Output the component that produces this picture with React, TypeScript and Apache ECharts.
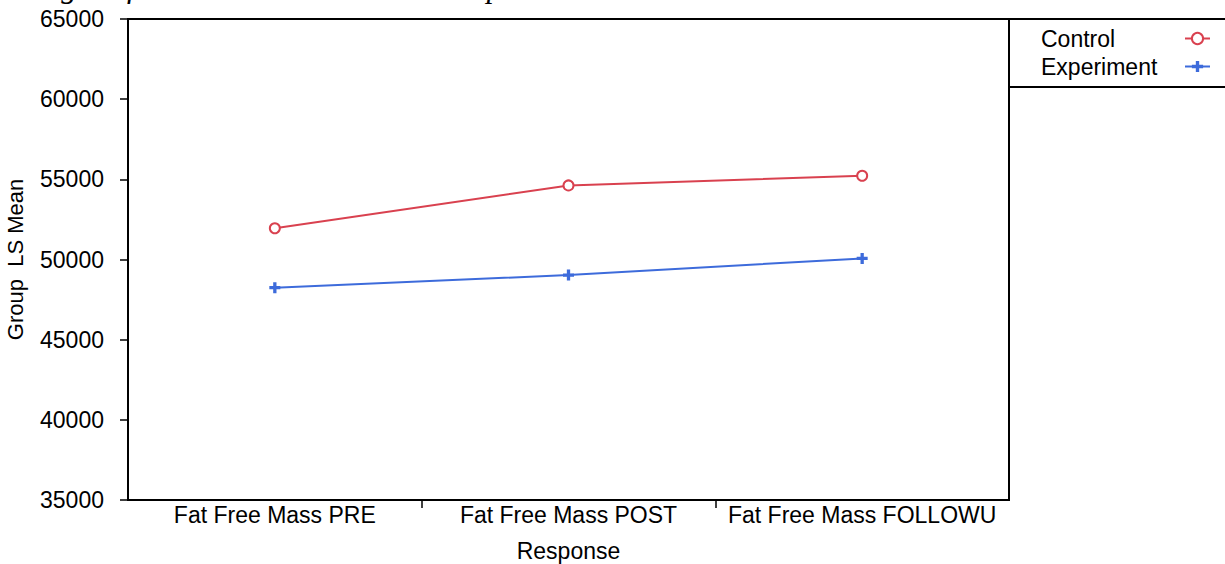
import React, { useEffect, useRef } from "react";
import * as echarts from "echarts";

const categories = ["Fat Free Mass PRE", "Fat Free Mass POST", "Fat Free Mass FOLLOWU"];
const controlValues = [51950, 54620, 55220];
const experimentValues = [48240, 49030, 50070];
const yMin = 35000;
const yMax = 65000;
const yInterval = 5000;
const titleText = "Changes of Fat Free Mass across time points";

const RED = "#d9414f";
const BLUE = "#3d6bdb";
const FONT = '"Liberation Sans", Arial, sans-serif';
const PLUS = "path://M3.5,0 H6.5 V3.5 H10 V6.5 H6.5 V10 H3.5 V6.5 H0 V3.5 H3.5 Z";

export default function App() {
  const ref = useRef<HTMLDivElement>(null);
  useEffect(() => {
    if (!ref.current) return;
    const chart = echarts.init(ref.current, undefined, { renderer: "svg" });
    chart.setOption({
      animation: false,
      backgroundColor: "#ffffff",
      textStyle: { fontFamily: FONT },
      grid: {
        left: 128,
        top: 19,
        right: 216,
        bottom: 64,
        outerBoundsMode: "none",
        containLabel: false,
        show: true,
        borderColor: "#000",
        borderWidth: 2,
        backgroundColor: "transparent",
      },
      legend: {
        orient: "vertical",
        left: 1036,
        top: 22,
        align: "right",
        itemGap: 5,
        itemWidth: 25,
        itemHeight: 14,
        formatter: (name: string) => `{t|${name}}`,
        textStyle: {
          fontFamily: FONT,
          fontSize: 23,
          color: "#000",
          align: "left",
          rich: {
            t: { width: 139, align: "left", fontFamily: FONT, fontSize: 23, color: "#000", lineHeight: 26 },
          },
        },
        data: ["Control", "Experiment"],
      },
      xAxis: [
        {
          type: "category",
          data: categories,
          boundaryGap: true,
          name: "Response",
          nameLocation: "middle",
          nameGap: 39,
          nameTextStyle: { fontFamily: FONT, fontSize: 23, color: "#000" },
          axisLine: { show: true, lineStyle: { color: "#000", width: 2 } },
          axisTick: { show: false },
          axisLabel: { fontFamily: FONT, fontSize: 23, color: "#000", margin: 3, interval: 0 },
          splitLine: { show: false },
        },
        {
          type: "value",
          position: "bottom",
          min: 0,
          max: 3,
          interval: 1,
          axisLine: { show: false },
          axisLabel: { show: false },
          axisTick: {
            show: true,
            customValues: [1, 2],
            length: 8,
            lineStyle: { color: "#000", width: 1.5 },
          },
          splitLine: { show: false },
        },
      ],
      yAxis: {
        type: "value",
        min: yMin,
        max: yMax,
        interval: yInterval,
        name: "Group  LS Mean",
        nameLocation: "middle",
        nameGap: 102,
        nameTextStyle: { fontFamily: FONT, fontSize: 22, color: "#000" },
        axisLine: { show: true, lineStyle: { color: "#000", width: 2 } },
        axisTick: { show: true, length: 8, lineStyle: { color: "#000", width: 1.5 } },
        axisLabel: {
          fontFamily: FONT,
          fontSize: 23,
          color: "#000",
          margin: 24,
          formatter: (v: number) => String(v),
        },
        splitLine: { show: false },
      },
      series: [
        {
          name: "Control",
          type: "line",
          xAxisIndex: 0,
          data: controlValues,
          symbol: "emptyCircle",
          symbolSize: 10,
          color: RED,
          lineStyle: { color: RED, width: 2 },
          itemStyle: { color: RED, borderColor: RED, borderWidth: 1.5 },
        },
        {
          name: "Experiment",
          type: "line",
          xAxisIndex: 0,
          data: experimentValues,
          symbol: PLUS,
          symbolSize: 11,
          color: BLUE,
          lineStyle: { color: BLUE, width: 2 },
          itemStyle: { color: BLUE, borderWidth: 0 },
        },
      ],
      graphic: [
        {
          type: "line",
          shape: { x1: 1009, y1: 19, x2: 1225, y2: 19 },
          style: { stroke: "#000", lineWidth: 2 },
        },
        {
          type: "line",
          shape: { x1: 1009, y1: 87, x2: 1225, y2: 87 },
          style: { stroke: "#000", lineWidth: 2 },
        },
        {
          type: "text",
          x: -7,
          y: 2,
          style: {
            text: titleText,
            font: 'italic 31.5px "Liberation Serif", serif',
            fill: "#000",
            verticalAlign: "bottom",
            align: "left",
          },
        },
      ],
    });
    return () => chart.dispose();
  }, []);
  return (
    <div
      ref={ref}
      style={{ position: "absolute", left: 0, top: 0, width: 1225, height: 564 }}
    />
  );
}
